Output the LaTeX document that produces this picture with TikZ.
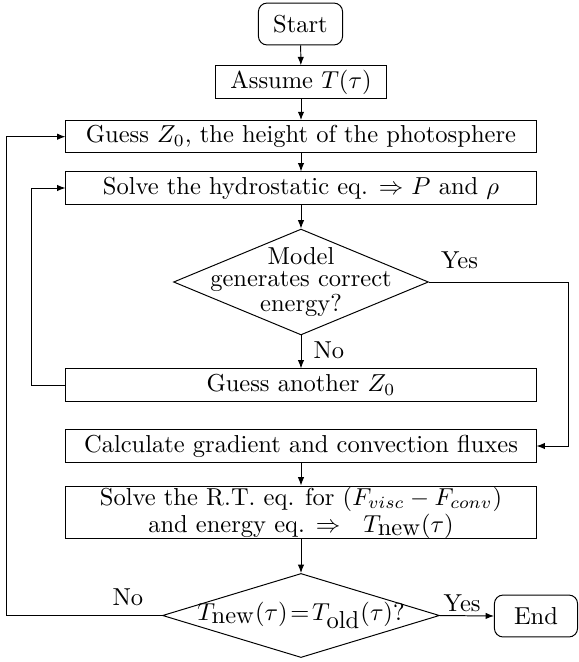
\documentclass[tikz,border=0pt]{standalone}
\usetikzlibrary{shapes.geometric,arrows.meta}
\begin{document}
\begin{tikzpicture}[x=0.408pt,y=-0.408pt,
  box/.style={draw,rectangle,inner sep=0pt,minimum height=13.1pt,align=center},
  widebox/.style={box,minimum width=191.8pt},
  term/.style={draw,rectangle,rounded corners=3.5pt,inner sep=0pt,minimum width=34.3pt,minimum height=17.1pt},
  dia/.style={draw,diamond,inner sep=0pt},
  txt/.style={align=center,inner sep=0pt,font=\fontsize{10}{8.8}\selectfont},
  lbl/.style={inner sep=0pt},
  arr/.style={-{Latex[length=3.4pt,width=2.6pt]}}]
\useasboundingbox (0,0) rectangle (578,662);
% nodes
\node[term] (start) at (300.5,24) {Start};
\node[box,minimum width=69.8pt,minimum height=13.5pt] (assume) at (301,82.3) {Assume $T(\tau)$};
\node[widebox] (guess) at (301,136.7) {Guess $Z_0$, the height of the photosphere};
\node[widebox] (hydro) at (301,188) {Solve the hydrostatic eq. $\Rightarrow$ $P$ and $\rho$};
\node[dia,minimum width=104pt,minimum height=43.2pt] (d1) at (301,282) {};
\node[txt] (d1t) at (d1.center) {Model\\generates correct\\energy?};
\node[widebox] (another) at (301,385) {Guess another $Z_0$};
\node[widebox] (calc) at (301,446) {Calculate gradient and convection fluxes};
\node[widebox,minimum height=21.6pt,font=\fontsize{10}{8.8}\selectfont] (rt) at (301,512.5)
  {Solve the R.T. eq. for $(F_{visc}-F_{conv})$\\and energy eq. $\Rightarrow\ \ T_{\mbox{new}}(\tau)$};
\node[dia,minimum width=113pt,minimum height=34.3pt] (d2) at (301,615.5) {};
\node[txt] (d2t) at (d2.center) {$T_{\mbox{new}}(\tau)\!=\!T_{\mbox{old}}(\tau)$?};
\node[term,minimum width=33.9pt] (end) at (536,616) {End};
% helper coordinates
\coordinate (rx) at (568,0);
\coordinate (lx1) at (31,0);
\coordinate (lx2) at (6.6,0);
% connectors
\draw[arr] (start) -- (assume);
\draw[arr] (assume) -- (guess);
\draw[arr] (guess) -- (hydro);
\draw[arr] (hydro) -- (d1.north);
\draw[arr] (d1.south) -- node[lbl,right=4.9pt,pos=0.45]{No} (another);
\draw[arr] (d1.east) -- node[lbl,above=5.3pt,pos=0.22]{Yes} (d1.east -| rx) |- (calc.east);
\draw[arr] (another.west) -- (another.west -| lx1) |- (hydro.west);
\draw[arr] (calc) -- (rt);
\draw[arr] (rt) -- (d2.north);
\draw[arr] (d2.east) -- node[lbl,above=1.6pt,pos=0.41]{Yes} (end.west);
\draw[arr] (d2.west) -- node[lbl,above=3.7pt,pos=0.22]{No} (d2.west -| lx2) |- (guess.west);
\end{tikzpicture}
\end{document}
